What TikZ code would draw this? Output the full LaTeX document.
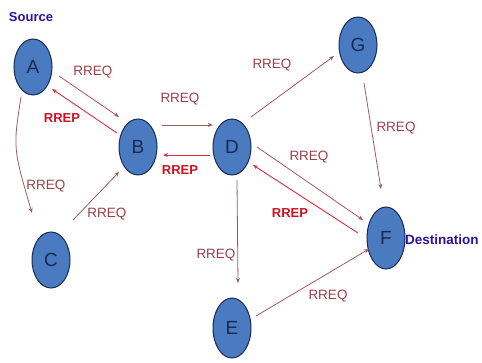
\documentclass[tikz,border=0pt]{standalone}
\usepackage{fontspec}
\setmainfont{Liberation Sans}
\usetikzlibrary{shapes.geometric,arrows.meta}
\definecolor{nodefill}{HTML}{4A7AC0}
\definecolor{nodeline}{HTML}{1A2A50}
\definecolor{reqcol}{HTML}{9A4048}
\definecolor{repcol}{HTML}{D01020}
\definecolor{reqline}{HTML}{A05A60}
\definecolor{repline}{HTML}{D83040}
\definecolor{titlecol}{HTML}{3010A0}
\begin{document}
\begin{tikzpicture}[x=1pt,y=-1pt,
  nd/.style={ellipse,draw=nodeline,line width=1pt,fill=nodefill,minimum width=38pt,minimum height=56pt,inner sep=0pt,font=\fontsize{19}{19}\selectfont,text=nodeline},
  req/.style={text=reqcol,font=\fontsize{13.5}{13.5}\selectfont},
  rep/.style={text=repcol,font=\bfseries\fontsize{13}{13}\selectfont},
  reqarrow/.style={draw=reqline,line width=0.8pt,-{Stealth[length=5pt,width=4pt]}},
  reparrow/.style={draw=repline,line width=0.9pt,-{Stealth[length=5pt,width=4pt]}},
  title/.style={text=titlecol,font=\bfseries\fontsize{13}{13}\selectfont}]
\useasboundingbox (0,0) rectangle (482,362);
\node[nd] (A) at (33,67) {A};
\node[nd] (B) at (138,147) {B};
\node[nd] (C) at (51,260) {C};
\node[nd] (D) at (232,147) {D};
\node[nd] (G) at (358,45) {G};
\node[nd,minimum height=62pt] (F) at (386,238) {F};
\node[nd,minimum height=60pt] (E) at (232,328) {E};
\node[title] (src) at (31,17) {Source};
\node[title,anchor=west,inner sep=0pt,font=\bfseries\fontsize{13.5}{13.5}\selectfont] (dst) at (405,240) {Destination};
% connectors
\coordinate (ab1) at (59,76); \coordinate (ab2) at (119,117);
\draw[reqarrow] (ab1) -- (ab2);
\coordinate (ba1) at (117,133); \coordinate (ba2) at (52,89);
\draw[reparrow] (ba1) -- (ba2);
\coordinate (bd1) at (162,125); \coordinate (bd2) at (213,125);
\draw[reqarrow] (bd1) -- (bd2);
\coordinate (db1) at (210,155); \coordinate (db2) at (163,155);
\draw[reparrow] (db1) -- (db2);
\coordinate (ac1) at (21,97); \coordinate (acm) at (13,148); \coordinate (ac2) at (32,213);
\draw[reqarrow] (ac1) .. controls (acm) .. (ac2);
\coordinate (cb1) at (73,220); \coordinate (cb2) at (119,172);
\draw[reqarrow] (cb1) -- (cb2);
\coordinate (dg1) at (251,117); \coordinate (dg2) at (334,56);
\draw[reqarrow] (dg1) -- (dg2);
\coordinate (gf1) at (364,83); \coordinate (gf2) at (381,189);
\draw[reqarrow] (gf1) -- (gf2);
\coordinate (df1) at (257,147); \coordinate (df2) at (363,220);
\draw[reqarrow] (df1) -- (df2);
\coordinate (fd1) at (358,233); \coordinate (fd2) at (253,165);
\draw[reparrow] (fd1) -- (fd2);
\coordinate (de1) at (237,180); \coordinate (de2) at (238,283);
\draw[reqarrow] (de1) -- (de2);
\coordinate (ef1) at (256,316); \coordinate (ef2) at (369,249);
\draw[reqarrow] (ef1) -- (ef2);
% labels
\node[req] (l1) at (93,72) {RREQ};
\node[rep] (l2) at (62,118) {RREP};
\node[req] (l3) at (180,99) {RREQ};
\node[rep] (l4) at (180,170) {RREP};
\node[req] (l5) at (46,186) {RREQ};
\node[req] (l6) at (107,214) {RREQ};
\node[req] (l7) at (272,65) {RREQ};
\node[req] (l8) at (396,128) {RREQ};
\node[req] (l9) at (309,157) {RREQ};
\node[rep] (l10) at (290,213) {RREP};
\node[req] (l11) at (216,255) {RREQ};
\node[req] (l12) at (328,296) {RREQ};
\end{tikzpicture}
\end{document}
